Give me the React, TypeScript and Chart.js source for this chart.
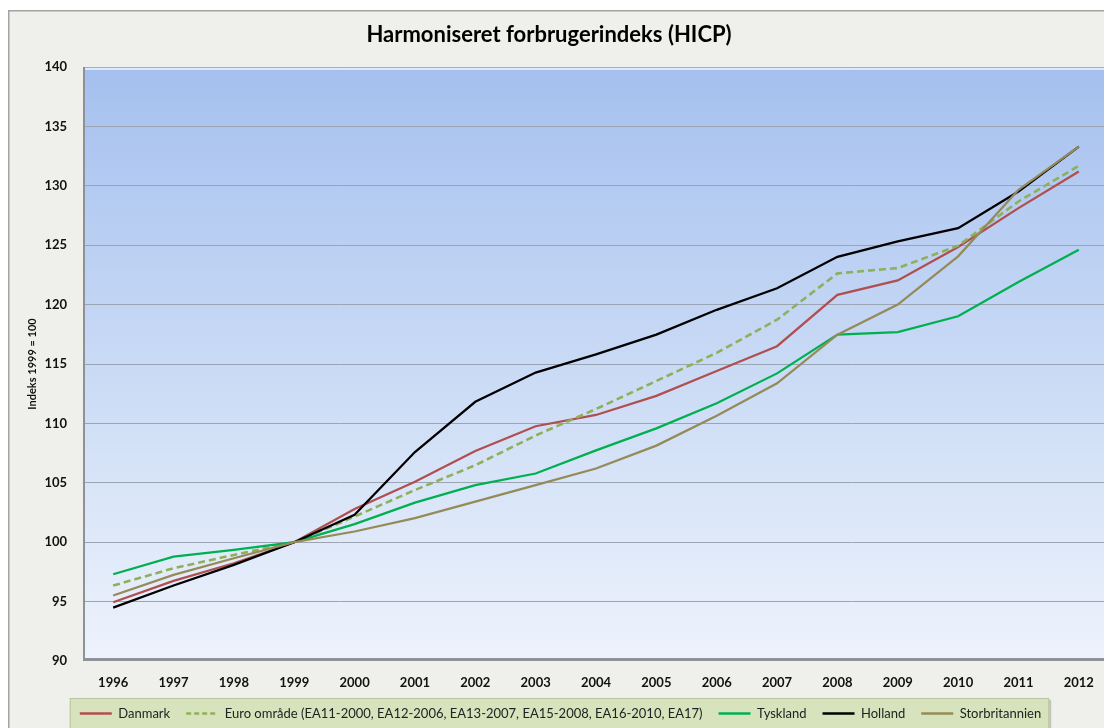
import React, { useEffect, useRef } from "react";
import { Chart, registerables } from "chart.js";

Chart.register(...registerables);

const years = ["1996", "1997", "1998", "1999", "2000", "2001", "2002", "2003", "2004", "2005", "2006", "2007", "2008", "2009", "2010", "2011", "2012"];

const danmark = [94.94, 96.74, 98.23, 100, 102.8, 105.08, 107.67, 109.76, 110.71, 112.32, 114.41, 116.5, 120.82, 122.04, 124.85, 128.12, 131.2];
const euroOmraade = [96.35, 97.81, 98.93, 100, 102.16, 104.39, 106.48, 108.98, 111.21, 113.57, 115.94, 118.73, 122.63, 123.08, 124.96, 128.68, 131.68];
const tyskland = [97.3, 98.79, 99.35, 100, 101.52, 103.33, 104.8, 105.78, 107.73, 109.58, 111.7, 114.21, 117.47, 117.68, 119.02, 121.9, 124.62];
const holland = [94.49, 96.35, 98.09, 100, 102.3, 107.59, 111.82, 114.28, 115.81, 117.47, 119.56, 121.38, 124.02, 125.32, 126.44, 129.52, 133.3];
const storbritannien = [95.51, 97.25, 98.65, 100, 100.9, 102.02, 103.41, 104.81, 106.2, 108.13, 110.64, 113.37, 117.47, 120.0, 124.06, 129.66, 133.3];

const seriesNames = [
  "Danmark",
  "Euro område (EA11-2000, EA12-2006, EA13-2007, EA15-2008, EA16-2010, EA17)",
  "Tyskland",
  "Holland",
  "Storbritannien",
];
const seriesColors = ["#b04f4f", "#8fb05a", "#00b050", "#000000", "#958b58"];

const yMin = 90;
const yMax = 140;
const yStep = 5;

const titleText = "Harmoniseret forbrugerindeks (HICP)";
const yAxisTitle = "Indeks 1999 = 100";

const FONT = "Lato, 'Open Sans', 'Noto Sans', sans-serif";

const backgroundPlugin = {
  id: "bgPlugin",
  beforeDraw(chart: any) {
    const { ctx, width, height, chartArea } = chart;
    ctx.save();
    ctx.fillStyle = "#ffffff";
    ctx.fillRect(0, 0, width, height);
    // outer frame
    ctx.fillStyle = "#efefeb";
    ctx.fillRect(0, 2, width, height - 2);
    ctx.strokeStyle = "#a3a3a3";
    ctx.lineWidth = 1.5;
    ctx.beginPath();
    ctx.moveTo(0.75, height);
    ctx.lineTo(0.75, 2.75);
    ctx.lineTo(width, 2.75);
    ctx.stroke();

    // plot area gradient
    const { left, top, right, bottom } = chartArea;
    const g = ctx.createLinearGradient(0, top, 0, bottom);
    g.addColorStop(0, "#a5c0ef");
    g.addColorStop(0.5, "#c9daf5");
    g.addColorStop(1, "#eef3fc");
    ctx.fillStyle = g;
    ctx.fillRect(left, top, right - left, bottom - top);

    // legend background box
    const legend = chart.legend;
    if (legend && legend.legendHitBoxes && legend.legendHitBoxes.length) {
      const boxes = legend.legendHitBoxes;
      let minX = Infinity, maxX = -Infinity, minY = Infinity;
      boxes.forEach((b: any) => {
        minX = Math.min(minX, b.left);
        maxX = Math.max(maxX, b.left + b.width);
        minY = Math.min(minY, b.top);
      });
      const x0 = minX - 10;
      const x1 = maxX + 8;
      const y0 = minY - 9;
      ctx.fillStyle = "rgba(110,115,100,0.35)";
      ctx.fillRect(x0 + 2, y0 + 2, x1 - x0, height - y0);
      ctx.fillStyle = "#d6e3bc";
      ctx.fillRect(x0, y0, x1 - x0, height - y0);
      ctx.strokeStyle = "#b9c4a0";
      ctx.lineWidth = 1;
      ctx.strokeRect(x0 + 0.5, y0 + 0.5, x1 - x0 - 1, height - y0);
    }
    ctx.restore();
  },
  beforeDatasetsDraw(chart: any) {
    const { ctx, chartArea } = chart;
    const { left, top, right, bottom } = chartArea;
    ctx.save();
    ctx.strokeStyle = "#9fb0c8";
    ctx.lineWidth = 1;
    ctx.beginPath();
    ctx.moveTo(left, top + 0.5);
    ctx.lineTo(right, top + 0.5);
    ctx.stroke();
    ctx.strokeStyle = "#dce9fb";
    ctx.lineWidth = 2;
    ctx.beginPath();
    ctx.moveTo(left + 2, top + 2);
    ctx.lineTo(right - 2, top + 2);
    ctx.stroke();
    ctx.strokeStyle = "#8e9196";
    ctx.lineWidth = 2;
    ctx.beginPath();
    ctx.moveTo(left + 1, top);
    ctx.lineTo(left + 1, bottom);
    ctx.stroke();
    ctx.strokeStyle = "#8f9297";
    ctx.lineWidth = 3;
    ctx.beginPath();
    ctx.moveTo(left, bottom - 1.5);
    ctx.lineTo(right, bottom - 1.5);
    ctx.stroke();
    ctx.strokeStyle = "#74777c";
    ctx.lineWidth = 3;
    ctx.beginPath();
    ctx.moveTo(right - 1.5, top);
    ctx.lineTo(right - 1.5, bottom);
    ctx.stroke();
    ctx.restore();
  },
  afterDraw(chart: any) {
    const { ctx } = chart;
    ctx.save();
    ctx.fillStyle = "#000000";
    ctx.font = `bold 22px ${FONT}`;
    ctx.textAlign = "center";
    ctx.textBaseline = "alphabetic";
    ctx.fillText(titleText, 541, 34);
    ctx.restore();
  },
};

export default function App() {
  const canvasRef = useRef<HTMLCanvasElement | null>(null);

  useEffect(() => {
    document.documentElement.style.overflow = "hidden";
    document.body.style.overflow = "hidden";
    const canvas = canvasRef.current;
    if (!canvas) return;
    const seriesData = [danmark, euroOmraade, tyskland, holland, storbritannien];
    const defaultGen = (Chart.defaults as any).plugins.legend.labels.generateLabels;
    const chart = new Chart(canvas, {
      type: "line",
      data: {
        labels: years,
        datasets: seriesData.map((d, i) => ({
          label: seriesNames[i],
          data: d,
          borderColor: seriesColors[i],
          backgroundColor: seriesColors[i],
          borderWidth: i === 1 ? 2.6 : 2.25,
          borderDash: i === 1 ? [7, 4] : [],
          pointRadius: 0,
          pointHoverRadius: 0,
          tension: 0,
          fill: false,
          order: -i,
        })),
      },
      options: {
        animation: false,
        responsive: false,
        maintainAspectRatio: false,
        events: [],
        layout: { padding: { left: 4, right: 3, top: 59, bottom: 0 } },
        plugins: {
          title: { display: false },
          tooltip: { enabled: false },
          legend: {
            display: true,
            position: "bottom",
            labels: {
              usePointStyle: true,
              pointStyle: "line",
              pointStyleWidth: 32,
              padding: 16,
              color: "#222222",
              font: { family: FONT, size: 13 },
              sort: (a: any, b: any) => a.datasetIndex - b.datasetIndex,
              generateLabels: (c: any) => {
                const items = defaultGen(c);
                items.forEach((it: any) => {
                  const ds = c.data.datasets[it.datasetIndex];
                  it.lineDash = ds.borderDash && ds.borderDash.length ? [5, 3] : [];
                  it.lineWidth = 2.5;
                  it.strokeStyle = ds.borderColor;
                  it.fillStyle = ds.borderColor;
                  it.pointStyle = "line";
                });
                return items;
              },
            },
          },
        },
        scales: {
          x: {
            type: "category",
            offset: true,
            grid: { display: false, drawTicks: false },
            border: { display: false },
            ticks: {
              color: "#111111",
              font: { family: FONT, size: 13, weight: "bold" },
              padding: 14,
              maxRotation: 0,
              autoSkip: false,
            },
            afterFit: (s: any) => {
              s.height = 30;
            },
          },
          y: {
            min: yMin,
            max: yMax,
            grid: {
              drawTicks: false,
              lineWidth: 1,
              color: (c: any) =>
                c.tick && (c.tick.value === yMin || c.tick.value === yMax)
                  ? "rgba(0,0,0,0)"
                  : "#9aa4b3",
            },
            border: { display: false },
            ticks: {
              stepSize: yStep,
              color: "#111111",
              font: { family: FONT, size: 13, weight: "bold" },
              padding: 16,
            },
            title: {
              display: true,
              text: yAxisTitle,
              color: "#111111",
              font: { family: FONT, size: 11, weight: "bold" },
              padding: { top: 14, bottom: 0 },
            },
            afterFit: (s: any) => {
              s.width = 71;
            },
          },
        },
      },
      plugins: [backgroundPlugin],
    });
    return () => chart.destroy();
  }, []);

  return (
    <div style={{ width: 1104, height: 722, position: "relative" }}>
      <canvas ref={canvasRef} width={1104} height={722} style={{ display: "block", width: 1104, height: 722 }} />
    </div>
  );
}
